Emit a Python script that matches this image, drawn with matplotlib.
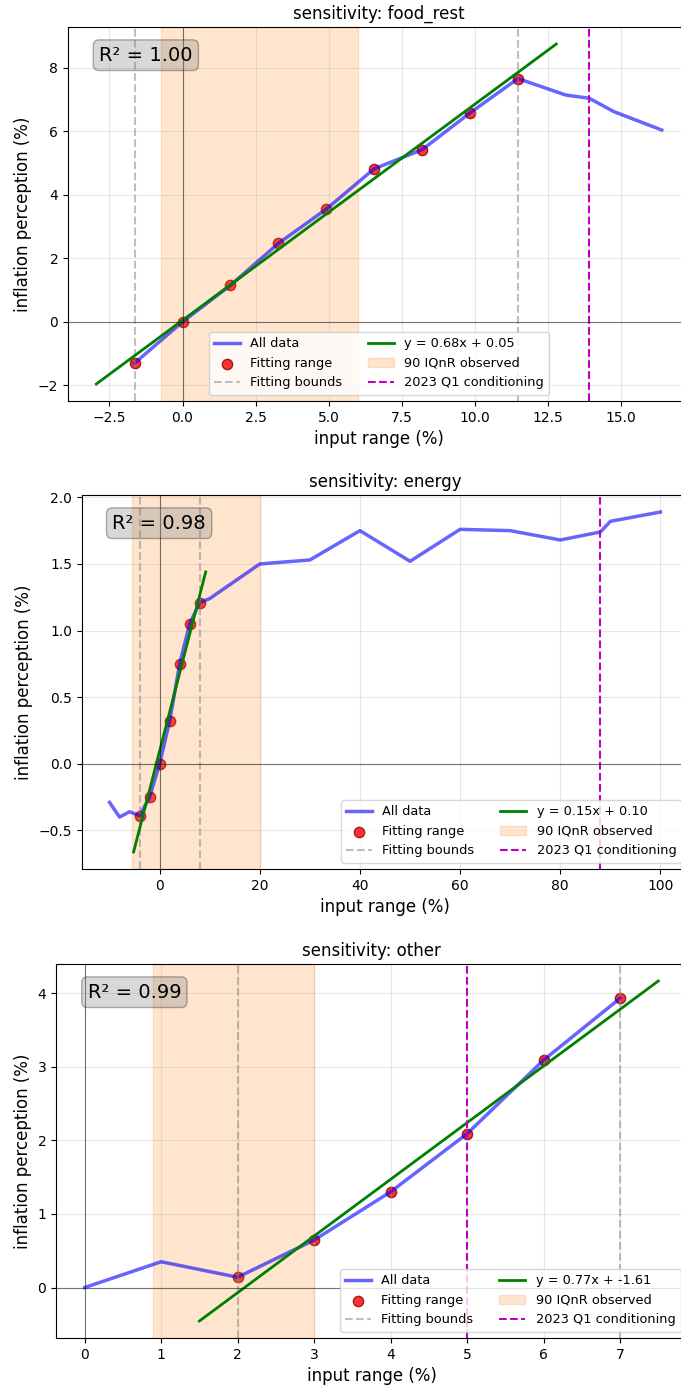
import numpy as np
import matplotlib
matplotlib.use('Agg')
import matplotlib.pyplot as plt

# sensitivity data
food_x = [-1.64, 0.0, 1.64, 3.28, 4.92, 6.56, 8.2, 9.84, 11.48, 13.12, 13.92, 14.76, 16.4]
food_y = [-1.30, 0.0, 1.15, 2.47, 3.55, 4.82, 5.42, 6.58, 7.66, 7.14, 7.04, 6.62, 6.04]

energy_x = [-10, -8, -6, -4, -2, 0, 2, 4, 6, 8, 10, 20, 30, 40, 50, 60, 70, 80, 88, 90, 100]
energy_y = [-0.29, -0.40, -0.36, -0.39, -0.25, 0.0, 0.32, 0.75, 1.05, 1.21, 1.24, 1.50,
            1.53, 1.75, 1.52, 1.76, 1.75, 1.68, 1.74, 1.82, 1.89]

other_x = [0, 1, 2, 3, 4, 5, 6, 7]
other_y = [0.0, 0.35, 0.14, 0.645, 1.30, 2.09, 3.09, 3.93]

names = ['food_rest', 'energy', 'other']
xs = [food_x, energy_x, other_x]
ys = [food_y, energy_y, other_y]
bounds = [(-1.64, 11.48), (-4, 8), (2, 7)]
iqr = [(-0.73, 6.0), (-5.6, 20), (0.89, 3.0)]
cond = [13.92, 88, 5]
slopes = [0.68, 0.146, 0.77]
intercepts = [0.05, 0.097, -1.61]
r2 = [1.00, 0.98, 0.99]
leg_loc = ['lower center', 'lower right', 'lower right']

# axes boxes in pixels (left, right, top, bottom) - right side runs off the figure
W, H = 681, 1387
boxes = [(68, 690, 27, 401), (82, 688, 495, 869), (56, 687, 964, 1338)]

fig = plt.figure(figsize=(W / 100, H / 100), dpi=100)

for i in range(3):
    l, r, t, b = boxes[i]
    ax = fig.add_axes([l / W, (H - b) / H, (r - l) / W, (b - t) / H])
    x = np.array(xs[i])
    y = np.array(ys[i])
    lo, hi = bounds[i]
    mask = (x >= lo) & (x <= hi)

    ax.plot(x, y, color='blue', alpha=0.6, lw=2.5, label='All data')
    ax.scatter(x[mask], y[mask], color='red', edgecolor='darkred', alpha=0.8, s=55,
               label='Fitting range')
    ax.axvline(lo, color='gray', ls='--', alpha=0.5, lw=1.5, label='Fitting bounds')
    ax.axvline(hi, color='gray', ls='--', alpha=0.5, lw=1.5)

    # fit line extended by 10% of the fitting range on each side
    ext = 0.1 * (hi - lo)
    xf = np.array([lo - ext, hi + ext])
    ax.plot(xf, slopes[i] * xf + intercepts[i], color='green', lw=2,
            label='y = {:.2f}x + {:.2f}'.format(slopes[i], intercepts[i]))

    ax.axvspan(iqr[i][0], iqr[i][1], color='C1', alpha=0.2, label='90 IQnR observed')
    ax.axvline(cond[i], color='m', ls='--', lw=1.5, label='2023 Q1 conditioning')

    ax.axhline(0, color='black', lw=0.8, alpha=0.5)
    ax.axvline(0, color='black', lw=0.8, alpha=0.5)

    ax.text(0.05, 0.95, 'R² = {:.2f}'.format(r2[i]), transform=ax.transAxes, fontsize=14,
            va='top', bbox=dict(boxstyle='round', facecolor='gray', alpha=0.3))

    ax.set_title('sensitivity: ' + names[i], fontsize=12)
    ax.set_xlabel('input range (%)', fontsize=12)
    ax.set_ylabel('inflation perception (%)', fontsize=12)
    ax.grid(True, alpha=0.3)
    ax.legend(loc=leg_loc[i], ncol=2, fontsize=9.3)

fig.savefig('out.png', dpi=100)
